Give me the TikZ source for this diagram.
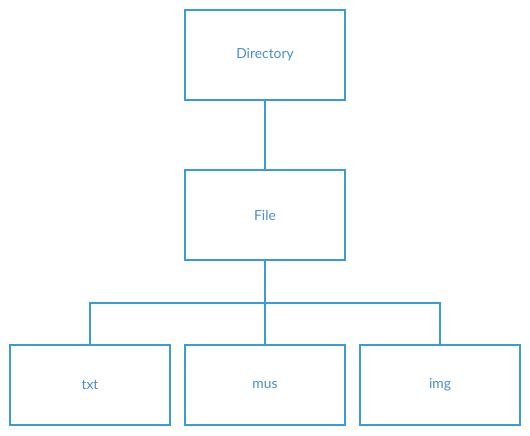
\documentclass[tikz,border=0pt]{standalone}
\usepackage{fontspec}
\setmainfont{Lato}
\usepackage{tikz}
\usetikzlibrary{positioning,calc}

\definecolor{boxblue}{HTML}{3A9ADA}
\definecolor{textblue}{HTML}{4B8FC9}

\tikzset{
  treebox/.style = {draw = boxblue, line width = 1.5pt, fill = white, text = textblue,
                    minimum width = 120pt, font = \fontsize{10.4}{12}\selectfont},
  bigbox/.style = {treebox, minimum height = 67.5pt},
  smallbox/.style = {treebox, minimum height = 60pt},
  link/.style = {draw = boxblue, line width = 1.5pt}
}

\begin{document}
\begin{tikzpicture}[x = 0.75pt, y = -0.75pt]

\useasboundingbox (0,0) rectangle (530,435);

\node[bigbox] (dir) at (265,55) {Directory};
\node[bigbox] (file) at (265,215) {File};

\node[smallbox] (txt) at (90,385) {txt};
\node[smallbox] (mus) at (265,385) {mus};
\node[smallbox] (img) at (440,385) {img};

\coordinate (bus) at (265,303);

\draw[link] (dir.south) -- (file.north);

\draw[link] (file.south) -- (bus);
\draw[link] (bus) -| (txt.north);
\draw[link] (bus) -- (mus.north);
\draw[link] (bus) -| (img.north);

\end{tikzpicture}
\end{document}
